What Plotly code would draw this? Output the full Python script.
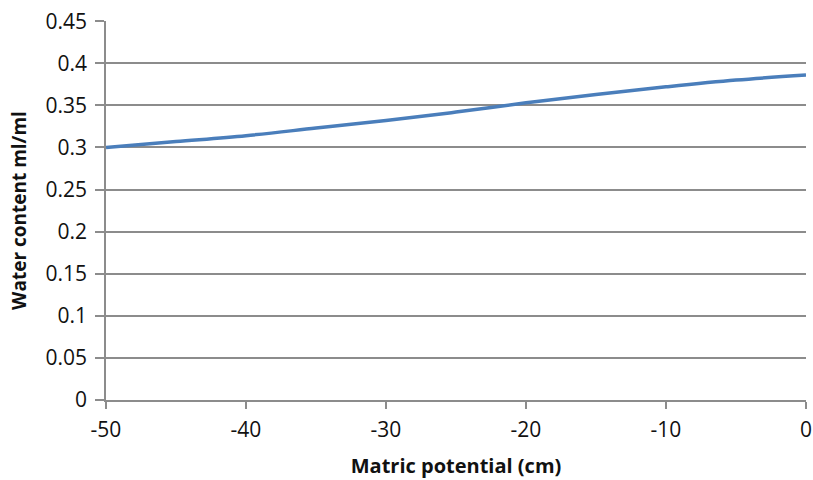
import plotly.graph_objects as go

# Matric potential (cm) and water content (ml/ml)
potential = [-50, -45, -40, -35, -30, -25, -20, -15, -10, -5, 0]
water_content = [0.300, 0.307, 0.314, 0.323, 0.332, 0.342, 0.353, 0.363, 0.372, 0.380, 0.386]

x_ticks = [-50, -40, -30, -20, -10, 0]
x_labels = ["-50", "-40", "-30", "-20", "-10", "0"]
y_ticks = [0, 0.05, 0.1, 0.15, 0.2, 0.25, 0.3, 0.35, 0.4, 0.45]
y_labels = ["0", "0.05", "0.1", "0.15", "0.2", "0.25", "0.3", "0.35", "0.4", "0.45"]

grid_color = "#8c8c8c"

fig = go.Figure()
fig.add_trace(go.Scatter(
    x=potential, y=water_content,
    mode="lines",
    line=dict(color="#4a7ebb", width=3.5, shape="spline", smoothing=1.0),
    showlegend=False,
))

fig.update_layout(
    width=813, height=480,
    margin=dict(l=106, r=7, t=21, b=80, autoexpand=False),
    plot_bgcolor="white",
    paper_bgcolor="white",
    font=dict(family="Open Sans, sans-serif", size=21, color="#111111"),
)

fig.update_xaxes(
    range=[-50, 0],
    tickvals=x_ticks,
    ticktext=x_labels,
    showgrid=False,
    zeroline=False,
    showline=True, linecolor=grid_color, linewidth=1.5,
    ticks="outside", ticklen=7, tickcolor=grid_color, tickwidth=1.5,
    tickfont=dict(size=21),
    ticklabelstandoff=3,
    automargin=False,
    title=dict(text="<b>Matric potential (cm)</b>", font=dict(size=20), standoff=17),
)
fig.update_yaxes(
    range=[0, 0.4502],
    tickvals=y_ticks,
    ticktext=y_labels,
    showgrid=True, gridcolor=grid_color, gridwidth=1.5,
    zeroline=False,
    showline=True, linecolor=grid_color, linewidth=1.5,
    ticks="outside", ticklen=9, tickcolor=grid_color, tickwidth=1.5,
    tickfont=dict(size=21),
    ticklabelstandoff=4,
    automargin=False,
    title=dict(text="<b>Water content ml/ml</b>", font=dict(size=19), standoff=14),
)

# drop the default page margin so the figure sits at the window's corner
fig.write_html("out.html", config={"displayModeBar": False},
               post_script="document.body.style.margin='0';")
